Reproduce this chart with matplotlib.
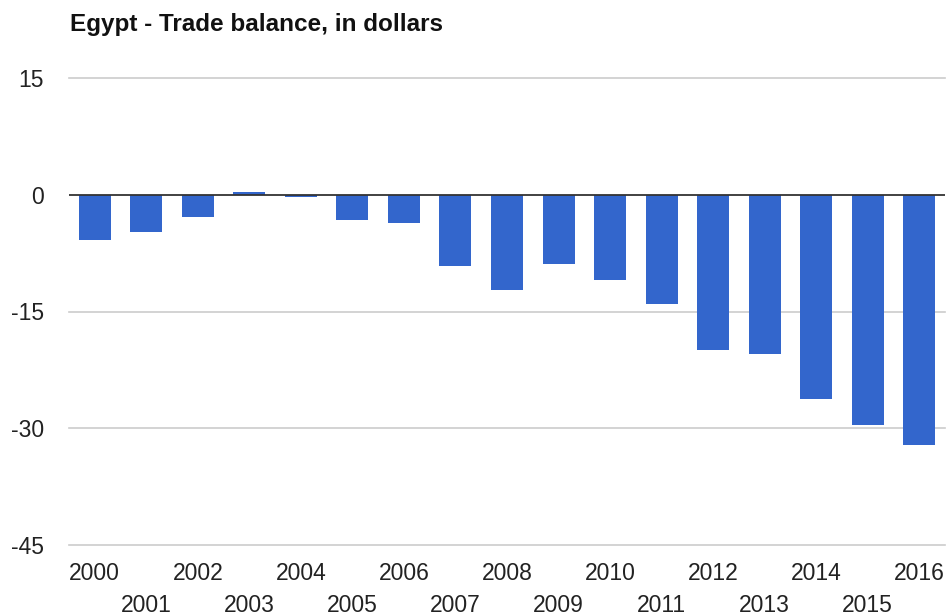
import matplotlib.pyplot as plt

years = [str(y) for y in range(2000, 2017)]
balance = [-5.8, -4.8, -2.8, 0.4, -0.3, -3.3, -3.6, -9.2, -12.3, -8.9,
           -10.9, -14.0, -19.9, -20.4, -26.2, -29.6, -32.1]
y_ticks = [15, 0, -15, -30, -45]

plt.rcParams['font.family'] = ['Liberation Sans', 'DejaVu Sans']

fig = plt.figure(figsize=(9.48, 6.15), dpi=100)
ax = fig.add_axes([69 / 948, 1 - 545 / 615, 876 / 948, 467 / 615])

x = list(range(len(years)))
ax.bar(x, balance, width=0.62, color='#3366cc', zorder=3)

ax.set_xlim(-0.5, len(years) - 0.5)
ax.set_ylim(-45, 15)
ax.set_yticks(y_ticks)
ax.set_yticklabels([str(v) for v in y_ticks])
for v in y_ticks:
    if v != 0:
        ax.axhline(v, color='#cccccc', linewidth=1.2, zorder=0, clip_on=False)
ax.axhline(0, color='#333333', linewidth=1.3, zorder=4)

for s in ax.spines.values():
    s.set_visible(False)

ax.set_xticks(x)
ax.set_xticklabels(years)
ax.tick_params(axis='both', length=0, labelsize=16.5, labelcolor='#222222')
ax.tick_params(axis='y', pad=18)
for i, tick in enumerate(ax.xaxis.get_major_ticks()):
    tick.set_pad(12 if i % 2 == 0 else 35)

fig.text(70 / 948, 1 - 25 / 615, 'Egypt - Trade balance, in dollars',
         fontsize=17.5, fontweight='bold', va='center', ha='left', color='#111111')

plt.savefig('out.png', dpi=100)
